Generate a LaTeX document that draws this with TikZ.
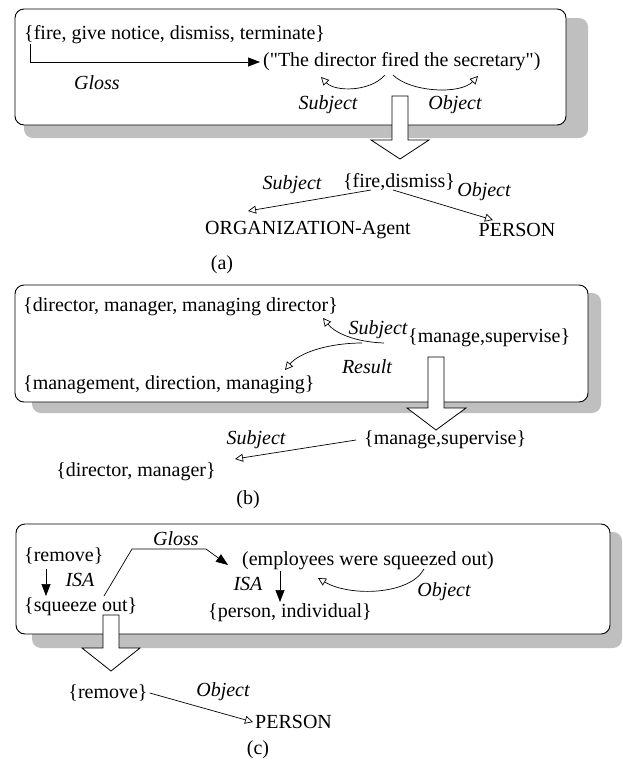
\documentclass[tikz,border=0pt]{standalone}
\usepackage{fontspec}
\setmainfont{Liberation Serif}
\newfontfamily\nomapfont{Liberation Serif}
\usetikzlibrary{arrows.meta}
\newcommand{\sq}{{\nomapfont"}}
\begin{document}
\begin{tikzpicture}[x=1pt,y=-1pt,
  every node/.style={font=\fontsize{20}{24}\selectfont, inner sep=0pt},
  lab/.style={font=\fontsize{20}{24}\selectfont\itshape},
  panel/.style={draw, line width=0.9pt, rounded corners=9pt, fill=white},
  shadowbox/.style={fill=black!25, rounded corners=9pt},
  bigarrow/.style={draw, fill=white, line width=0.8pt, line join=miter},
  oarr/.style={-{Triangle[open,length=8pt,width=8pt]}, line width=0.7pt},
  farr/.style={-{Triangle[length=12pt,width=9pt]}, line width=0.7pt},
]
\useasboundingbox (0,0) rectangle (623,763);

% ---------------- panel (a)
\fill[shadowbox] (24,18) rectangle (588,138);
\draw[panel] (15,9) rectangle (566,125);
\node[anchor=west] (syn1) at (24,35) {\{fire, give notice, dismiss, terminate\}};
\node[anchor=west] (ex1) at (263,62) {(\sq The director fired the secretary\sq)};
\node[lab] (gl1) at (97,83) {Gloss};
\coordinate (g1s) at ([xshift=6pt]syn1.south west);
\coordinate (g1e) at ([xshift=-3pt]ex1.west);
\draw[farr] (g1s) |- (g1e);
\node[lab] (s1) at (328,105) {Subject};
\node[lab] (o1) at (455,105) {Object};
\coordinate (s1a) at (385,75);
\coordinate (s1b) at (321,77);
\coordinate (o1a) at (393,75);
\coordinate (o1b) at (478,76);
\draw[oarr] (s1a) .. controls (370,92) and (335,92) .. (s1b);
\draw[oarr] (o1a) .. controls (410,92) and (460,95) .. (o1b);
\draw[bigarrow] (392,96) -- (408,96) -- (408,140) -- (429,140) -- (400,159) -- (371,140) -- (392,140) -- cycle;
\node (fd) at (399,182) {\{fire,dismiss\}};
\node[lab] (s2) at (292,185) {Subject};
\node[lab] (o2) at (484,192) {Object};
\node (org) at (308,230) {ORGANIZATION-Agent};
\node (per) at (517,230) {PERSON};
\node (la) at (222,265) {(a)};
\coordinate (fdl) at (371,190);
\coordinate (fdr) at (393,190);
\coordinate (orgt) at (248,211);
\coordinate (pert) at (493,220);
\draw[oarr] (fdl) -- (orgt);
\draw[oarr] (fdr) -- (pert);

% ---------------- panel (b)
\fill[shadowbox] (32,293) rectangle (601,413);
\draw[panel] (15,285) rectangle (588,402);
\node[anchor=west] (d1) at (23,307) {\{director, manager, managing director\}};
\node[anchor=west] (m1) at (23,385) {\{management, direction, managing\}};
\node[anchor=west] (ms1) at (408,338) {\{manage,supervise\}};
\node[lab] (s3) at (378,330) {Subject};
\node[lab] (r3) at (367,367) {Result};
\coordinate (s3a) at (384,343);
\coordinate (s3b) at (323,318);
\coordinate (r3a) at (362,343);
\coordinate (r3b) at (285,370);
\draw[oarr] (s3a) .. controls (355,342) and (335,333) .. (s3b);
\draw[oarr] (r3a) .. controls (330,343) and (300,352) .. (r3b);
\draw[bigarrow] (428,357) -- (444,357) -- (444,408) -- (466,408) -- (436,430) -- (407,408) -- (428,408) -- cycle;
\node[anchor=west] (ms2) at (364,440) {\{manage,supervise\}};
\node[lab] (s4) at (256,440) {Subject};
\node (dm) at (136,472) {\{director, manager\}};
\node (lb) at (248,500) {(b)};
\coordinate (ms2l) at ([xshift=-8pt]ms2.west);
\coordinate (dmt) at (235,459);
\draw[oarr] (ms2l) -- (dmt);

% ---------------- panel (c)
\fill[shadowbox] (32,532) rectangle (622,648);
\draw[panel] (16,524) rectangle (610,634);
\node[anchor=west] (rm1) at (24,556) {\{remove\}};
\node[anchor=west] (sq) at (24,607) {\{squeeze out\}};
\node[lab] (isa1) at (80,580) {ISA};
\coordinate (i1a) at (46,569);
\coordinate (i1b) at (46,596);
\draw[farr] (i1a) -- (i1b);
\node[lab] (gl3) at (176,539) {Gloss};
\node[anchor=west] (emp) at (242,561) {(employees were squeezed out)};
\coordinate (g3a) at (104,596);
\coordinate (g3b) at (228,565);
\draw[farr] (g3a) -- (132,549) -- (206,549) -- (g3b);
\node[lab] (isa2) at (248,584) {ISA};
\node[anchor=west] (pi) at (208,613) {\{person, individual\}};
\coordinate (i2a) at (280,571);
\coordinate (i2b) at (280,602);
\draw[farr] (i2a) -- (i2b);
\coordinate (o5a) at (424,569);
\coordinate (o5b) at (318,578);
\draw[oarr] (o5a) .. controls (410,595) and (350,597) .. (o5b);
\node[lab] (o5) at (444,592) {Object};
\draw[bigarrow] (103,615) -- (119,615) -- (119,648) -- (140,648) -- (111,671) -- (82,648) -- (103,648) -- cycle;
\node (rm2) at (108,693) {\{remove\}};
\node[lab] (o6) at (223,692) {Object};
\node[anchor=west] (per2) at (255,722) {PERSON};
\coordinate (rm2r) at ([xshift=2pt]rm2.east);
\coordinate (per2t) at ([xshift=-2pt]per2.west);
\draw[oarr] (rm2r) -- (per2t);
\node (lc) at (258,750) {(c)};
\end{tikzpicture}
\end{document}
